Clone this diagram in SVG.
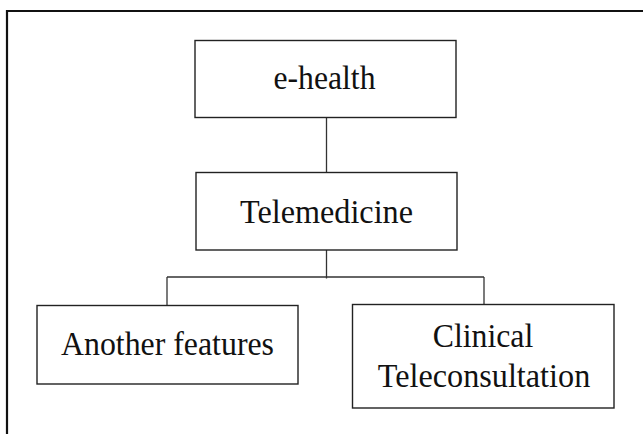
<svg xmlns="http://www.w3.org/2000/svg" width="643" height="434" viewBox="0 0 643 434">
<style>
.box{fill:#fff;stroke:#222;stroke-width:1.4}
.lbl{font-family:"Liberation Serif","Times New Roman",serif;font-size:34px;fill:#111;text-anchor:middle}
.conn{fill:none;stroke:#333;stroke-width:1.3}
</style>
<rect width="643" height="434" fill="#fff"/>
<path d="M7,434 V11 H643" fill="none" stroke="#111" stroke-width="2.2"/>
<g id="connectors">
<line class="conn" x1="326.5" y1="117.5" x2="326.5" y2="172.5"/>
<line class="conn" x1="326.5" y1="250" x2="326.5" y2="278.5"/>
<line class="conn" x1="167" y1="277" x2="484" y2="277"/>
<line class="conn" x1="167" y1="277" x2="167" y2="305.5"/>
<line class="conn" x1="484" y1="277" x2="484" y2="304.5"/>
</g>
<g id="ehealth">
<rect class="box" x="195" y="40.5" width="261" height="77"/>
<text class="lbl" x="324.5" y="89" textLength="102" lengthAdjust="spacingAndGlyphs">e-health</text>
</g>
<g id="telemedicine">
<rect class="box" x="196" y="172.5" width="261" height="77.5"/>
<text class="lbl" x="326.5" y="222.5" textLength="173" lengthAdjust="spacingAndGlyphs">Telemedicine</text>
</g>
<g id="another">
<rect class="box" x="37" y="305.5" width="261" height="78.5"/>
<text class="lbl" x="167.5" y="355" textLength="213" lengthAdjust="spacingAndGlyphs">Another features</text>
</g>
<g id="clinical">
<rect class="box" x="352.5" y="304.5" width="261.5" height="103.5"/>
<text class="lbl" x="483" y="346.5" textLength="100.5" lengthAdjust="spacingAndGlyphs">Clinical</text>
<text class="lbl" x="484" y="386.5" textLength="212.5" lengthAdjust="spacingAndGlyphs">Teleconsultation</text>
</g>
</svg>
